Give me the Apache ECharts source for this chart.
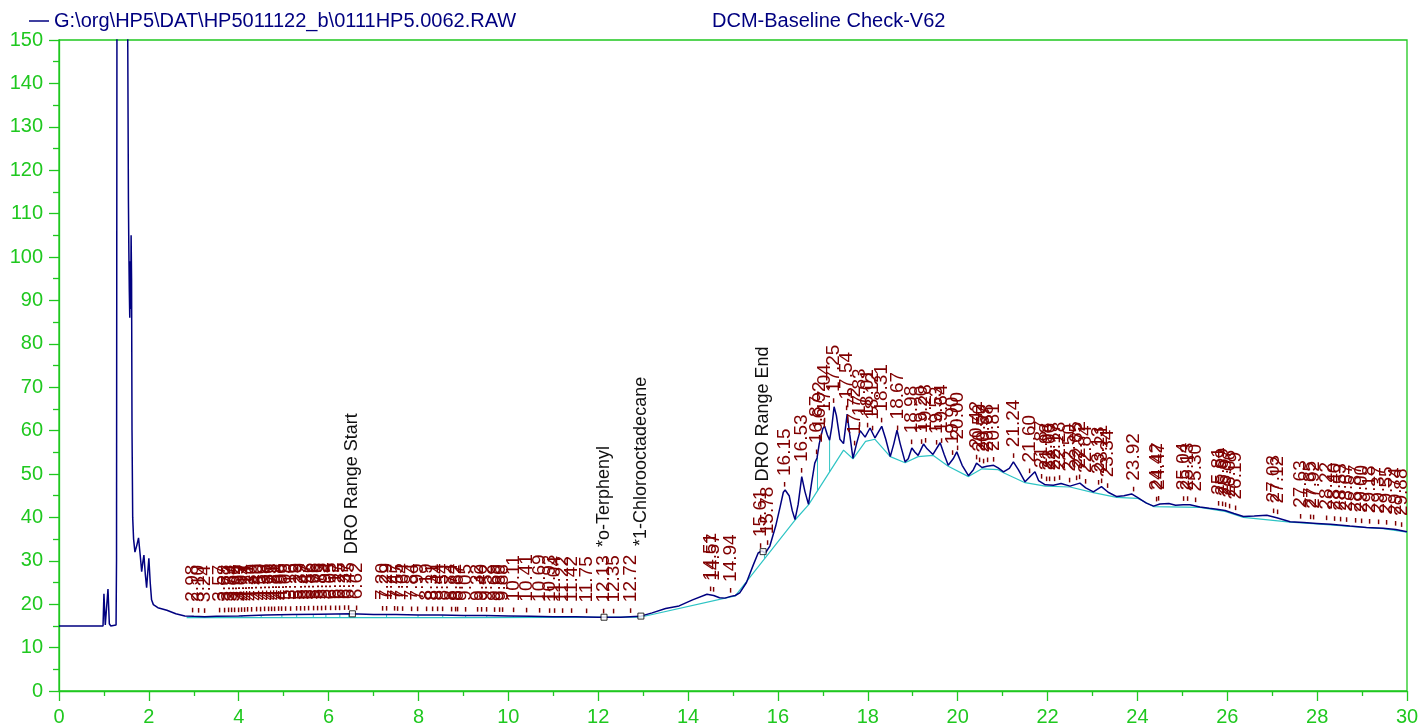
<!DOCTYPE html>
<html>
<head>
<meta charset="utf-8">
<title>DCM-Baseline Check-V62</title>
<script src="https://cdn.jsdelivr.net/npm/echarts@6.0.0/dist/echarts.min.js"></script>
<style>
  html, body { margin: 0; padding: 0; background: #fff; }
  #chart { width: 1420px; height: 725px; }
</style>
</head>
<body>
<div id="chart"></div>
<script>
const fileName = 'G:\\org\\HP5\\DAT\\HP5011122_b\\0111HP5.0062.RAW';
const methodName = 'DCM-Baseline Check-V62';

// chromatogram trace (min, response)
const traceTimes = [
  0, 0.98, 1.00, 1.03, 1.07, 1.09, 1.12, 1.15, 1.27, 1.28, 1.29, 1.40, 1.52, 1.53,
  1.545, 1.555, 1.565, 1.575, 1.585, 1.595, 1.605, 1.615, 1.625, 1.64, 1.66, 1.69,
  1.73, 1.77, 1.81, 1.84, 1.87, 1.89, 1.92, 1.95, 1.98, 2.00, 2.03, 2.06, 2.10,
  2.2, 2.4, 2.6, 2.8, 3.0, 3.24, 3.5, 4.0, 4.6, 5.2, 5.8, 6.5, 7.0, 7.5, 8.0,
  8.5, 9.0, 9.5, 10.0, 10.5, 11.0, 11.5, 12.0, 12.5, 12.93, 13.2, 13.5, 13.8,
  14.1, 14.42, 14.57, 14.7, 14.82, 14.95, 15.05, 15.15, 15.3, 15.45, 15.56, 15.64,
  15.72, 15.82, 15.95, 16.05, 16.12, 16.16, 16.25, 16.32, 16.38, 16.45, 16.53,
  16.6, 16.68, 16.75, 16.82, 16.87, 16.92, 17.0, 17.04, 17.10, 17.15, 17.2, 17.25,
  17.3, 17.38, 17.46, 17.54, 17.6, 17.67, 17.75, 17.83, 17.94, 18.05, 18.16, 18.31,
  18.4, 18.5, 18.58, 18.65, 18.72, 18.83, 18.9, 18.98, 19.05, 19.12, 19.24, 19.32,
  19.45, 19.61, 19.7, 19.79, 19.9, 19.98, 20.1, 20.24, 20.35, 20.42, 20.54, 20.65,
  20.8, 20.9, 21.02, 21.15, 21.24, 21.35, 21.5, 21.62, 21.72, 21.8, 21.95, 22.13,
  22.3, 22.5, 22.72, 22.85, 23.02, 23.2, 23.35, 23.54, 23.7, 23.87, 24.0, 24.2,
  24.36, 24.5, 24.7, 24.85, 25.02, 25.17, 25.39, 25.6, 25.77, 25.95, 26.15, 26.36,
  26.6, 26.88, 27.1, 27.4, 27.7, 27.99, 28.3, 28.73, 29.1, 29.47, 29.75, 30.0
];
const traceValues = [
  15, 15, 22.4, 15.2, 15, 23.5, 15.5, 15, 15.2, 30, 160, 600, 160, 150,
  113, 101, 92, 86, 99, 88, 105, 95, 60, 40, 35, 32,
  33.5, 35.3, 31, 27.5, 30, 31.3, 27, 23.8, 28, 30.6, 25, 21, 19.9,
  19.2, 18.6, 17.8, 17.3, 17.2, 17.1, 17.2, 17.3, 17.5, 17.6, 17.7, 17.8, 17.6, 17.6, 17.5,
  17.5, 17.4, 17.4, 17.3, 17.2, 17.1, 17.1, 17.0, 17.0, 17.2, 18.0, 19.0, 19.6,
  21.0, 22.3, 22.0, 21.5, 21.4, 21.8, 22.0, 22.6, 25.0, 29.0, 31.8, 32.3,
  31.8, 33.4, 38.0, 42.5, 45.8, 46.3, 45.0, 41.5, 39.5, 43.0, 49.4,
  46.0, 43.0, 48.0, 52.5, 53.7, 57.0, 60.5, 61.0, 59.0, 57.8, 61.0, 65.5,
  63.5, 58.0, 57.0, 63.8, 59.0, 53.6, 57.0, 60.0, 58.5, 60.6, 58.3, 61.0,
  58.0, 54.0, 57.0, 60.1, 57.0, 52.8, 53.5, 56.0, 55.0, 54.3, 56.9, 55.8,
  54.5, 57.2, 54.5, 52.0, 53.5, 55.1, 52.0, 49.6, 51.0, 52.5, 51.5, 51.8,
  52.0, 51.4, 50.5, 51.3, 52.8, 51.0, 48.2, 49.5, 50.5, 48.5, 47.5, 47.4,
  47.8, 47.2, 47.9, 46.8, 45.9, 47.1, 45.8, 44.8, 45.0, 45.4, 44.6, 43.3,
  42.6, 43.1, 43.2, 42.8, 42.9, 42.9, 42.4, 42.1, 41.9, 41.6, 40.9, 40.2,
  40.3, 40.5, 39.9, 39.0, 38.8, 38.6, 38.4, 38.0, 37.7, 37.5, 37.2, 36.7
];

// integration baseline
const baseTimes = [
  2.84, 6.6, 9.0, 12.93, 15.05, 16.38, 16.68, 17.46, 17.67, 17.95, 18.16, 18.5,
  18.83, 19.12, 19.45, 19.79, 20.24, 20.54, 20.9, 21.02, 21.5, 21.95, 22.5, 23.02,
  23.54, 24.0, 24.36, 25.39, 25.95, 26.36, 27.4, 27.99, 28.73, 29.47, 30.0
];
const baseValues = [
  16.9, 16.9, 16.9, 17.0, 21.9, 39.4, 42.9, 55.5, 53.5, 57.5, 58.0, 54.0,
  52.6, 54.0, 54.3, 51.8, 49.4, 51.2, 51.0, 50.3, 48.0, 47.2, 47.0, 45.7,
  44.6, 44.4, 42.5, 42.3, 41.4, 40.0, 38.9, 38.5, 37.9, 37.4, 36.6
];

// retention times written over the peaks
const peakTimes = [
  2.98, 3.10, 3.24, 3.57, 3.68, 3.77, 3.84, 3.92, 3.99, 4.07, 4.14, 4.21, 4.30,
  4.40, 4.50, 4.58, 4.66, 4.73, 4.81, 4.88, 4.96, 5.05, 5.16, 5.29, 5.39, 5.47,
  5.56, 5.66, 5.76, 5.85, 5.94, 6.05, 6.17, 6.25, 6.37, 6.45, 6.62,
  7.20, 7.29, 7.47, 7.55, 7.64, 7.84, 7.99, 8.19, 8.31, 8.44, 8.54, 8.74, 8.82,
  8.87, 9.05, 9.32, 9.40, 9.52, 9.69, 9.80, 9.88, 10.11, 10.41, 10.69, 10.93,
  11.04, 11.22, 11.42, 11.75, 12.13, 12.35, 12.72,
  14.51, 14.57, 14.94, 15.61, 15.78, 16.15, 16.53, 16.87, 16.92, 17.04, 17.25,
  17.54, 17.72, 17.83, 18.01, 18.12, 18.31, 18.67, 18.98, 19.20, 19.28, 19.53,
  19.64, 19.90, 20.00, 20.42, 20.50, 20.57, 20.68, 20.81, 21.24, 21.60, 21.87,
  21.98, 22.06, 22.17, 22.28, 22.50, 22.65, 22.72, 22.84, 23.13, 23.21, 23.34,
  23.92, 24.42, 24.47, 25.04, 25.13, 25.30, 25.81, 25.89, 25.97, 26.06, 26.19,
  27.03, 27.12, 27.63, 27.85, 27.92, 28.22, 28.40, 28.53, 28.67, 28.87, 29.00,
  29.18, 29.37, 29.55, 29.74, 29.88
];

// named compounds
const compoundNames = ['DRO Range Start', '*o-Terphenyl', '*1-Chlorooctadecane', 'DRO Range End'];
const compoundTimes = [6.53, 12.13, 12.95, 15.67];

// split lines down to the baseline
const dropTimes = [3.57, 4.07, 4.50, 4.96, 5.29, 5.66, 5.94, 6.25, 6.45, 7.29, 7.99, 8.54, 9.05, 9.52, 10.11, 15.70, 16.88, 17.15];

const green = '#1fc81f';
const navy = '#000080';
const cyan = '#2ec4c4';
const peakRed = '#800000';
const fontFamily = '"Liberation Sans", Arial, sans-serif';

function interp(xs, ys, t) {
  if (t <= xs[0]) return ys[0];
  for (let i = 1; i < xs.length; i++) {
    if (t <= xs[i]) {
      const k = (t - xs[i - 1]) / (xs[i] - xs[i - 1]);
      return ys[i - 1] + k * (ys[i] - ys[i - 1]);
    }
  }
  return ys[ys.length - 1];
}

const ctx = document.createElement('canvas').getContext('2d');
ctx.font = '19px ' + fontFamily;
function timeText(t) { return '- ' + t.toFixed(2); }

const chart = echarts.init(document.getElementById('chart'));

const option = {
  animation: false,
  backgroundColor: '#fff',
  title: {
    text: methodName,
    left: 707,
    top: 6,
    textStyle: { color: navy, fontSize: 20, fontWeight: 'normal', fontFamily: fontFamily }
  },
  legend: {
    left: 24,
    top: 6,
    itemWidth: 20,
    itemHeight: 1.5,
    itemGap: 5,
    textStyle: { color: navy, fontSize: 20, fontFamily: fontFamily },
    data: [{ name: fileName, icon: 'rect' }]
  },
  grid: {
    left: 59, right: 13, top: 40, bottom: 34,
    outerBoundsMode: 'none',
    show: true, borderColor: green, borderWidth: 1.3, backgroundColor: 'transparent'
  },
  xAxis: {
    type: 'value', min: 0, max: 30, interval: 2,
    axisLine: { lineStyle: { color: green, width: 1.3 } },
    axisTick: { inside: false, length: 10, lineStyle: { color: green, width: 1.3 } },
    minorTick: { show: true, splitNumber: 2, length: 5, lineStyle: { color: green, width: 1.3 } },
    splitLine: { show: false },
    axisLabel: { color: green, fontSize: 20, fontFamily: fontFamily, margin: 16 }
  },
  yAxis: {
    type: 'value', min: 0, max: 150, interval: 10,
    axisLine: { show: true, lineStyle: { color: green, width: 1.3 } },
    axisTick: { show: true, inside: false, length: 10, lineStyle: { color: green, width: 1.3 } },
    minorTick: { show: true, splitNumber: 2, length: 6, lineStyle: { color: green, width: 1.3 } },
    splitLine: { show: false },
    axisLabel: { color: green, fontSize: 20, fontFamily: fontFamily, margin: 16 }
  },
  series: [
    {
      name: 'baseline',
      type: 'line',
      data: baseTimes.map((t, i) => [t, baseValues[i]]),
      showSymbol: false,
      lineStyle: { color: cyan, width: 1.2 },
      z: 2, silent: true
    },
    {
      name: 'drops',
      type: 'custom',
      data: dropTimes.map(t => [t, interp(baseTimes, baseValues, t), interp(traceTimes, traceValues, t)]),
      renderItem: function (params, api) {
        const a = api.coord([api.value(0), api.value(1)]);
        const b = api.coord([api.value(0), api.value(2)]);
        return {
          type: 'line',
          shape: { x1: a[0], y1: a[1], x2: b[0], y2: b[1] },
          style: { stroke: cyan, lineWidth: 1 }
        };
      },
      z: 2, silent: true
    },
    {
      name: fileName,
      type: 'line',
      data: traceTimes.map((t, i) => [t, traceValues[i]]),
      showSymbol: false,
      clip: true,
      itemStyle: { color: navy },
      lineStyle: { color: navy, width: 1.5 },
      z: 3, silent: true
    },
    {
      name: 'peaks',
      type: 'custom',
      data: peakTimes.map(t => [t, interp(traceTimes, traceValues, t)]),
      renderItem: function (params, api) {
        const p = api.coord([api.value(0), api.value(1)]);
        return {
          type: 'text',
          x: p[0], y: p[1] - 3,
          rotation: Math.PI / 2,
          style: {
            text: timeText(peakTimes[params.dataIndex]),
            fill: peakRed,
            font: '19px ' + fontFamily,
            align: 'left', verticalAlign: 'middle'
          }
        };
      },
      z: 4, silent: true
    },
    {
      name: 'compounds',
      type: 'custom',
      data: compoundTimes.map(t => [t, interp(traceTimes, traceValues, t)]),
      renderItem: function (params, api) {
        const t = compoundTimes[params.dataIndex];
        const p = api.coord([api.value(0), api.value(1)]);
        const off = 3 + ctx.measureText(timeText(t)).width + 8;
        return {
          type: 'text',
          x: p[0], y: p[1] - off,
          rotation: Math.PI / 2,
          style: {
            text: compoundNames[params.dataIndex],
            fill: '#111',
            font: '18px ' + fontFamily,
            align: 'left', verticalAlign: 'middle'
          }
        };
      },
      z: 4, silent: true
    },
    {
      name: 'markers',
      type: 'scatter',
      data: compoundTimes.map(t => [t, interp(traceTimes, traceValues, t)]),
      symbol: 'rect',
      symbolSize: 6,
      itemStyle: { color: '#fff', borderColor: '#000', borderWidth: 1 },
      z: 5, silent: true
    }
  ]
};

chart.setOption(option);
</script>
</body>
</html>
